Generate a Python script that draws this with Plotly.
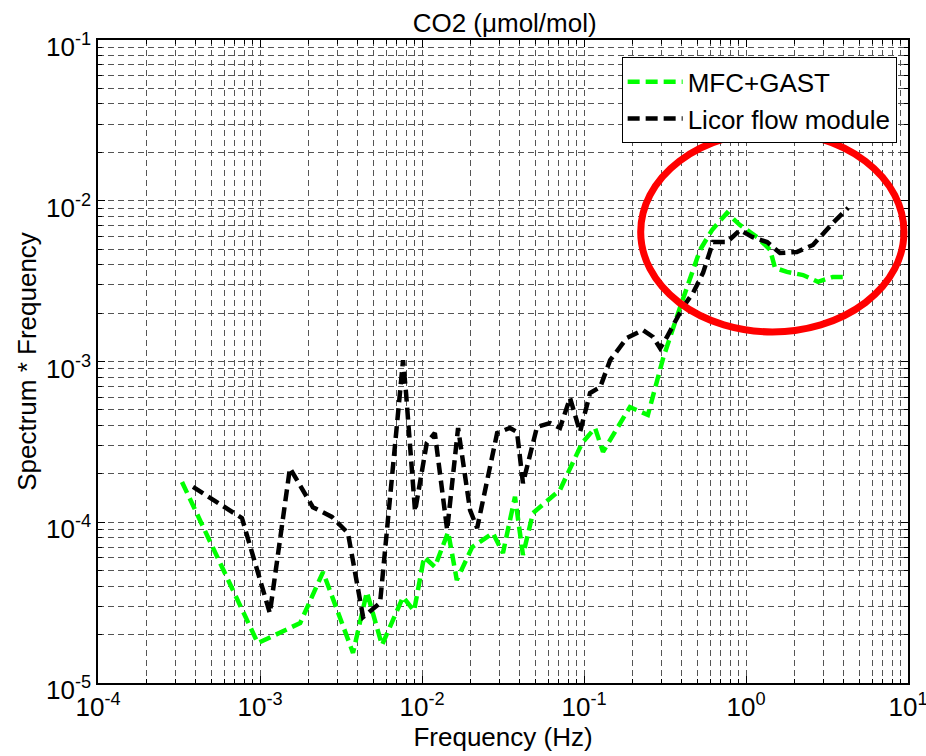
import plotly.graph_objects as go

# ---- data ----
mfc_freq = [3.30e-4, 9.7e-4, 1.77e-3, 2.45e-3, 3.75e-3, 4.57e-3, 5.66e-3, 7.64e-3, 8.93e-3,
            1.03e-2, 1.20e-2, 1.45e-2, 1.64e-2, 2.04e-2, 2.74e-2, 3.16e-2, 3.75e-2, 4.2e-2,
            4.84e-2, 7.11e-2, 9.73e-2, 0.117, 0.131, 0.192, 0.248, 0.308, 0.392, 0.520,
            0.617, 0.763, 0.918, 1.17, 1.41, 1.51, 1.79, 2.25, 2.78, 3.44, 4.20]
mfc_val = [1.78e-4, 1.77e-5, 2.36e-5, 4.9e-5, 1.54e-5, 3.68e-5, 1.72e-5, 3.43e-5, 2.81e-5,
           6.08e-5, 5.27e-5, 8.7e-5, 4.37e-5, 7.0e-5, 8.57e-5, 6.44e-5, 1.44e-4, 6.25e-5,
           1.14e-4, 1.59e-4, 3.11e-4, 3.86e-4, 2.74e-4, 5.21e-4, 4.65e-4, 1.05e-3, 2.18e-3, 4.94e-3,
           6.58e-3, 8.39e-3, 7.06e-3, 5.94e-3, 4.94e-3, 3.82e-3, 3.61e-3, 3.45e-3, 3.13e-3, 3.36e-3, 3.36e-3]

licor_freq = [3.86e-4, 7.74e-4, 1.15e-3, 1.53e-3, 2.12e-3, 2.78e-3, 3.49e-3, 4.33e-3, 5.51e-3,
              7.64e-3, 7.97e-3, 9.06e-3, 1.07e-2, 1.20e-2, 1.43e-2, 1.67e-2, 1.98e-2, 2.19e-2,
              2.91e-2, 3.49e-2, 3.86e-2, 4.2e-2, 5.13e-2, 6.17e-2, 7.11e-2, 8.2e-2, 9.45e-2,
              0.109, 0.126, 0.145, 0.184, 0.231, 0.267, 0.295, 0.325, 0.408, 0.471, 0.543,
              0.626, 0.763, 0.918, 1.10, 1.35, 1.62, 2.06, 2.59, 3.44, 4.27]
licor_val = [1.66e-4, 1.06e-4, 2.72e-5, 2.17e-4, 1.24e-4, 1.08e-4, 8.57e-5, 2.57e-5, 3.15e-5,
             1.02e-3, 6.37e-4, 1.17e-4, 3.11e-4, 3.59e-4, 8.95e-5, 3.86e-4, 1.19e-4, 9.2e-5,
             3.59e-4, 3.86e-4, 3.64e-4, 1.75e-4, 3.92e-4, 4.14e-4, 3.86e-4, 5.93e-4, 3.64e-4,
             6.37e-4, 6.94e-4, 1.02e-3, 1.40e-3, 1.57e-3, 1.42e-3, 1.21e-3, 1.42e-3, 2.18e-3,
             2.67e-3, 3.56e-3, 5.53e-3, 5.53e-3, 6.58e-3, 5.94e-3, 5.53e-3, 4.73e-3, 4.8e-3,
             5.31e-3, 7.28e-3, 9.02e-3]

x_tickvals = [1e-4, 1e-3, 1e-2, 1e-1, 1e0, 1e1]
x_ticktext = ["10<sup>-4</sup>", "10<sup>-3</sup>", "10<sup>-2</sup>", "10<sup>-1</sup>",
              "10<sup>0</sup>", "10<sup>1</sup>"]
y_tickvals = [1e-5, 1e-4, 1e-3, 1e-2, 1e-1]
y_ticktext = ["10<sup>-5</sup>", "10<sup>-4</sup>", "10<sup>-3</sup>", "10<sup>-2</sup>",
              "10<sup>-1</sup>"]

FONT = "Liberation Sans, Arial, sans-serif"

x_minor = [m * 10.0 ** e for e in range(-4, 1) for m in range(2, 10)]
y_minor = [m * 10.0 ** e for e in range(-5, -1) for m in range(2, 10)]

fig = go.Figure()
fig.add_trace(go.Scatter(x=mfc_freq, y=mfc_val, mode="lines", name="MFC+GAST",
                         line=dict(color="#00ff00", width=4.5, dash="12px,6px")))
fig.add_trace(go.Scatter(x=licor_freq, y=licor_val, mode="lines", name="Licor flow module",
                         line=dict(color="black", width=4.5, dash="12px,6px")))

grid_color = "#555555"
common = dict(showline=True, linecolor="black", linewidth=1.5, mirror="ticks",
              ticks="inside", ticklen=7, tickcolor="black", tickwidth=1,
              showgrid=True, gridcolor=grid_color, gridwidth=1, griddash="6px,4px",
              zeroline=False, automargin=False, ticklabeloverflow="allow",
              tickfont=dict(family=FONT, size=26, color="black"))

fig.update_xaxes(type="log", range=[-4, 1], tickmode="array", tickvals=x_tickvals,
                 ticktext=x_ticktext,
                 minor=dict(tickmode="array", tickvals=x_minor, ticks="inside", ticklen=4,
                            tickcolor="black", showgrid=True, gridcolor=grid_color,
                            gridwidth=1, griddash="6px,4px"),
                 title=dict(text="Frequency (Hz)", font=dict(family=FONT, size=26, color="black"),
                            standoff=0),
                 **common)
fig.update_yaxes(type="log", range=[-5, -1], tickmode="array", tickvals=y_tickvals,
                 ticktext=y_ticktext, ticklabelshift=7,
                 minor=dict(tickmode="array", tickvals=y_minor, ticks="inside", ticklen=4,
                            tickcolor="black", showgrid=True, gridcolor=grid_color,
                            gridwidth=1, griddash="6px,4px"),
                 title=dict(text="Spectrum * Frequency", font=dict(family=FONT, size=26, color="black"),
                            standoff=2),
                 **common)

# red ellipse annotation
fig.add_shape(type="circle", xref="paper", yref="paper", x0=0.670, x1=0.995, y0=0.546, y1=0.857,
              line=dict(color="red", width=7))

fig.update_layout(
    width=926, height=756,
    margin=dict(l=98, r=18, t=40, b=73),
    paper_bgcolor="white", plot_bgcolor="white",
    title=dict(text="CO2 (μmol/mol)", x=0.545, xanchor="center", y=0.970, yanchor="middle",
               font=dict(family=FONT, size=26, color="black")),
    legend=dict(x=0.986, xanchor="right", y=0.973, yanchor="top", bgcolor="white",
                bordercolor="black", borderwidth=1, itemwidth=55,
                font=dict(family=FONT, size=26, color="black"), tracegroupgap=0),
    showlegend=True,
)

fig.write_html("out.html")
